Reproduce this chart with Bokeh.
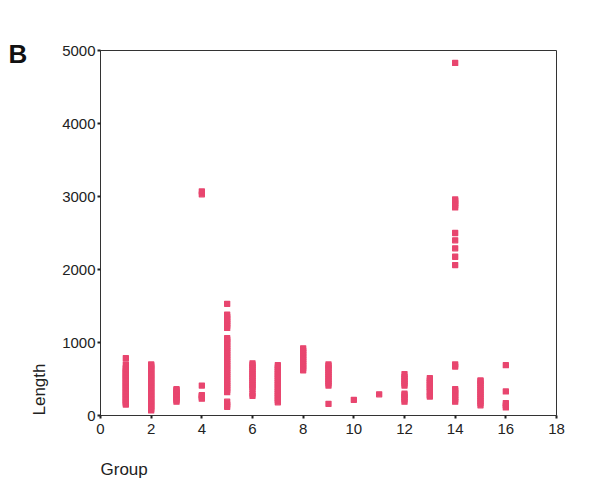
import math
from bokeh.plotting import figure
from bokeh.models import FixedTicker, ColumnDataSource, Range1d, Title
from bokeh.embed import file_html
from bokeh.resources import INLINE

# ---- data ----
groups = list(range(1, 17))
g1 = [150, 170, 190, 210, 230, 250, 270, 290, 310, 330, 350, 370, 390, 410, 430, 450,
      470, 490, 510, 530, 550, 570, 590, 610, 630, 650, 700, 785]
g2 = [70, 90, 110, 130, 150, 170, 190, 210, 230, 250, 270, 290, 310, 330, 350, 370, 390,
      410, 430, 450, 470, 490, 510, 530, 550, 570, 590, 610, 630, 650, 670, 690, 700]
g3 = [190, 210, 230, 250, 270, 290, 310, 330, 350, 360]
g4 = [230, 250, 270, 280, 410, 3030, 3070]
g5 = [120, 150, 190, 320, 350, 380, 410, 440, 470, 500, 530, 560, 590, 620, 650, 680,
      710, 740, 770, 800, 830, 860, 890, 920, 950, 980, 1010, 1040, 1060,
      1200, 1230, 1260, 1290, 1320, 1350, 1380, 1530]
g6 = [270, 300, 360, 390, 420, 450, 480, 510, 540, 570, 600, 630, 660, 690, 715]
g7 = [180, 210, 240, 270, 300, 330, 360, 390, 420, 450, 480, 510, 540, 570, 600, 630, 660, 690]
g8 = [620, 650, 680, 710, 740, 770, 800, 830, 860, 890, 920]
g9 = [160, 410, 440, 470, 500, 530, 560, 590, 620, 650, 680, 700]
g10 = [215]
g11 = [290]
g12 = [190, 220, 250, 280, 300, 410, 440, 470, 500, 530, 565]
g13 = [260, 280, 330, 360, 390, 420, 450, 480, 510]
g14 = [190, 220, 250, 280, 310, 340, 360, 670, 700, 2060, 2175, 2290, 2400, 2500,
       2850, 2880, 2910, 2940, 2960, 4830]
g15 = [140, 170, 200, 230, 260, 290, 320, 350, 380, 410, 440, 470, 480]
g16 = [110, 140, 170, 330, 690]
lengths = [g1, g2, g3, g4, g5, g6, g7, g8, g9, g10, g11, g12, g13, g14, g15, g16]

x_ticks = [0, 2, 4, 6, 8, 10, 12, 14, 16, 18]
y_ticks = [0, 1000, 2000, 3000, 4000, 5000]

xs, ys = [], []
for g, vals in zip(groups, lengths):
    for v in vals:
        xs.append(g)
        ys.append(v)
src = ColumnDataSource(dict(group=xs, length=ys))

PINK = "#e8466f"
FONT = "Liberation Sans"
INK = "#222222"

p = figure(width=581, height=500, output_backend="svg", toolbar_location=None,
           x_range=Range1d(0, 18), y_range=Range1d(0, 5000),
           min_border_left=100, min_border_right=25, min_border_top=50, min_border_bottom=85)
p.background_fill_color = "white"
p.border_fill_color = "white"
p.outline_line_color = "#333333"
p.outline_line_width = 1
p.grid.visible = False

p.scatter("group", "length", source=src, marker="square", size=5,
          fill_color=PINK, line_color=PINK, line_width=1.3, line_join="round")

for ax in (p.xaxis[0], p.yaxis[0]):
    ax.axis_line_color = "#333333"
    ax.axis_line_width = 1
    ax.major_tick_line_color = "#222222"
    ax.major_tick_line_width = 2
    ax.major_tick_out = 3
    ax.major_tick_in = 0
    ax.minor_tick_line_color = None
    ax.major_label_text_font = FONT
    ax.major_label_text_font_size = "15px"
    ax.major_label_text_color = INK

p.xaxis.ticker = FixedTicker(ticks=x_ticks)
p.yaxis.ticker = FixedTicker(ticks=y_ticks)
p.xaxis.major_label_standoff = 5
p.yaxis.major_label_standoff = 2

# axis titles placed like the original (left/bottom aligned)
p.add_layout(Title(text="Group", align="left", offset=0, standoff=43,
                   text_font=FONT, text_font_size="17px", text_font_style="normal",
                   text_color=INK), "below")
p.add_layout(Title(text="Length", align="left", offset=0, standoff=22,
                   text_font=FONT, text_font_size="17px", text_font_style="normal",
                   text_color=INK), "left")

p.title.text = "B"
p.title.align = "left"
p.title.offset = -92
p.title.standoff = -36
p.title.text_font = FONT
p.title.text_font_size = "26px"
p.title.text_font_style = "bold"
p.title.text_color = "#111111"

open("out.html", "w").write(file_html(p, INLINE))
